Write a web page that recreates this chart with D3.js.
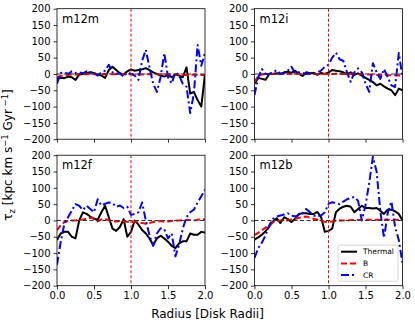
<!DOCTYPE html>
<html><head><meta charset="utf-8">
<script src="https://cdn.jsdelivr.net/npm/d3@7"></script>
<style>body{margin:0;background:#fff} svg{display:block} text{font-family:"DejaVu Sans",sans-serif}</style>
</head><body><svg id="c" width="415" height="327"></svg>
<script>
const radius = [0,0.05,0.1,0.15,0.2,0.25,0.3,0.35,0.4,0.45,0.5,0.55,0.6,0.65,0.7,0.75,0.8,0.85,0.9,0.95,1.0,
  1.05,1.1,1.15,1.2,1.25,1.3,1.35,1.4,1.45,1.5,1.55,1.6,1.65,1.7,1.75,1.8,1.85,1.9,1.95,2.0];
const galaxies = ["m12m","m12i","m12f","m12b"];
const seriesNames = ["Thermal","B","CR"];
const yTicks = [-200,-150,-100,-50,0,50,100,150,200];
const xTicks = [0,0.5,1.0,1.5,2.0];

const m12mThermal = [-15,-12,-13,-8,-10,-18,-2,0,3,5,3,-2,-5,-12,12,22,12,2,-2,8,14,10,12,14,18,12,5,0,-5,-8,-3,-10,-2,-5,-10,20,-60,-55,-80,-100,0];
const m12mB = [-10,-6,-4,-3,-2,-2,-1,-1,-1,0,-1,-1,-1,0,-1,-1,-1,-1,-1,-1,-1,-1,-1,-2,-1,-1,-2,-1,-1,-2,-1,-2,-2,-2,-3,-3,-3,-2,-3,-3,-3];
const m12mCR = [-30,3,5,0,8,3,5,2,8,5,3,-5,5,10,28,5,0,2,-8,5,0,-5,-18,40,74,20,-30,-55,-10,64,-10,-29,5,-5,-30,-39,-120,-60,89,25,64];

const m12iThermal = [-30,-12,-15,-18,0,0,2,0,5,7,3,10,0,-6,5,2,3,-3,3,0,5,12,10,8,5,0,5,-3,2,-5,-12,-18,-25,-35,-30,-38,-45,-50,-65,-45,-50];
const m12iB = [-25,-5,-2,0,0,1,0,1,0,1,0,1,0,0,1,0,0,0,1,0,0,0,1,0,0,0,-1,0,-1,-1,-2,-2,-2,-3,-3,-3,-4,-4,-4,-5,-5];
const m12iCR = [-65,-10,15,0,0,5,12,0,2,10,22,2,5,3,0,2,0,5,10,22,28,50,65,45,40,5,-24,5,17,5,-29,-55,33,5,-15,15,-10,-35,-40,64,-10];

const m12fThermal = [-60,-40,-35,-35,-50,-55,0,25,20,12,5,2,25,45,10,-25,-32,-20,4,-50,-35,0,-13,-29,-40,-55,-75,-55,-47,-55,-65,-78,-85,-70,-64,-64,-40,-44,-44,-35,-37];
const m12fB = [-30,-15,-5,-2,0,0,2,3,5,8,6,-3,3,5,0,-2,-3,-2,-3,-4,-5,-3,-5,-8,-10,-8,-5,-3,-2,-4,-3,-2,0,0,1,2,1,0,2,3,3];
const m12fCR = [-136,-66,-10,10,30,50,45,32,45,35,25,65,46,51,55,53,42,46,38,42,17,20,25,55,0,-45,-78,-40,-24,-27,-55,-40,-110,-75,-25,10,25,33,55,74,94];

const m12bThermal = [-59,-52,-44,-33,-18,-3,7,-8,10,4,-5,5,20,22,22,20,20,26,10,-35,-32,-25,25,36,42,45,42,25,35,45,38,38,37,38,30,20,33,33,28,20,0];
const m12bB = [-45,-38,-30,-22,-15,-6,-2,0,2,0,3,5,8,10,12,8,5,2,-2,-4,-5,-3,-2,0,0,0,1,1,1,2,2,2,2,2,2,2,2,2,2,2,2];
const m12bCR = [-115,-85,-68,-45,-15,5,12,15,18,22,15,12,17,22,35,25,15,12,15,25,51,56,53,50,58,65,69,72,60,0,46,115,195,150,30,-54,22,58,-20,-60,-131];

const data = {
  m12m: [m12mThermal, m12mB, m12mCR],
  m12i: [m12iThermal, m12iB, m12iCR],
  m12f: [m12fThermal, m12fB, m12fCR],
  m12b: [m12bThermal, m12bB, m12bCR]
};

const styles = [
  {color:"#000000", dash:null, w:2},
  {color:"#ff0000", dash:"6,3", w:2},
  {color:"#0000ff", dash:"8,3,2,3", w:2}
];

const svg = d3.select("#c");
const W = 148, H = 130.5;
const origins = [[57,8.7],[254.5,8.7],[57,155.2],[254.5,155.2]];

galaxies.forEach((g,i)=>{
  const [ox,oy] = origins[i];
  const x = d3.scaleLinear().domain([0,2]).range([0,W]);
  const y = d3.scaleLinear().domain([-200,200]).range([H,0]);
  const gp = svg.append("g").attr("transform",`translate(${ox},${oy})`);
  const cid = "clip"+i;
  gp.append("clipPath").attr("id",cid).append("rect").attr("width",W).attr("height",H);

  const plot = gp.append("g").attr("clip-path",`url(#${cid})`);
  data[g].forEach((vals,k)=>{
    const line = d3.line().x((d,j)=>x(radius[j])).y(d=>y(d));
    plot.append("path").datum(vals).attr("d",line)
      .attr("fill","none").attr("stroke",styles[k].color)
      .attr("stroke-width",styles[k].w)
      .attr("stroke-dasharray",styles[k].dash)
      .attr("stroke-linejoin","round");
  });
  // reference lines
  plot.append("line").attr("x1",0).attr("x2",W).attr("y1",y(0)).attr("y2",y(0))
    .attr("stroke","#333").attr("stroke-width",1.1).attr("stroke-dasharray","4,2.5");
  plot.append("line").attr("x1",x(1)).attr("x2",x(1)).attr("y1",0).attr("y2",H)
    .attr("stroke","#ff0000").attr("stroke-width",1).attr("stroke-dasharray","3,2");

  // axes
  const ay = gp.append("g").call(d3.axisLeft(y).tickValues(yTicks).tickSize(3.5).tickPadding(3).tickFormat(d3.format("d")));
  const ax = gp.append("g").attr("transform",`translate(0,${H})`)
    .call(d3.axisBottom(x).tickValues(xTicks).tickSize(3.5).tickPadding(3)
      .tickFormat(i>=2 ? d3.format(".1f") : ()=>""));
  [ay,ax].forEach(a=>{
    a.select(".domain").remove();
    a.selectAll("text").attr("font-size",10).attr("font-family","DejaVu Sans").attr("fill","#000");
    a.selectAll("line").attr("stroke","#000").attr("stroke-width",0.8);
  });
  gp.append("rect").attr("width",W).attr("height",H).attr("fill","none")
    .attr("stroke","#000").attr("stroke-width",0.8);

  gp.append("text").attr("x",5).attr("y",14).attr("font-size",11.5).text(g);

  if (g==="m12b") {
    const lg = gp.append("g").attr("transform","translate(83.5,90)");
    lg.append("rect").attr("width",60).attr("height",36).attr("rx",2)
      .attr("fill","#fff").attr("fill-opacity",0.8).attr("stroke","#ccc").attr("stroke-width",0.8);
    seriesNames.forEach((n,k)=>{
      const yy = 6.5 + k*11.7;
      lg.append("line").attr("x1",3).attr("x2",19).attr("y1",yy).attr("y2",yy)
        .attr("stroke",styles[k].color).attr("stroke-width",2)
        .attr("stroke-dasharray",styles[k].dash);
      lg.append("text").attr("x",25).attr("y",yy).attr("dy","0.35em")
        .attr("font-size",7.5).text(n);
    });
  }
});

// axis labels
svg.append("text").attr("x",207.5).attr("y",318).attr("text-anchor","middle")
  .attr("font-size",12).text("Radius [Disk Radii]");

const yl = svg.append("text").attr("transform","translate(12,155) rotate(-90)")
  .attr("text-anchor","middle").attr("font-size",12);
yl.append("tspan").text("τ");
yl.append("tspan").attr("font-size",8.5).attr("dy",3).text("z");
yl.append("tspan").attr("dy",-3).text(" [kpc km s");
yl.append("tspan").attr("font-size",8.5).attr("dy",-4).text("−1");
yl.append("tspan").attr("dy",4).text(" Gyr");
yl.append("tspan").attr("font-size",8.5).attr("dy",-4).text(" −1");
yl.append("tspan").attr("dy",4).text("]");
</script></body></html>
